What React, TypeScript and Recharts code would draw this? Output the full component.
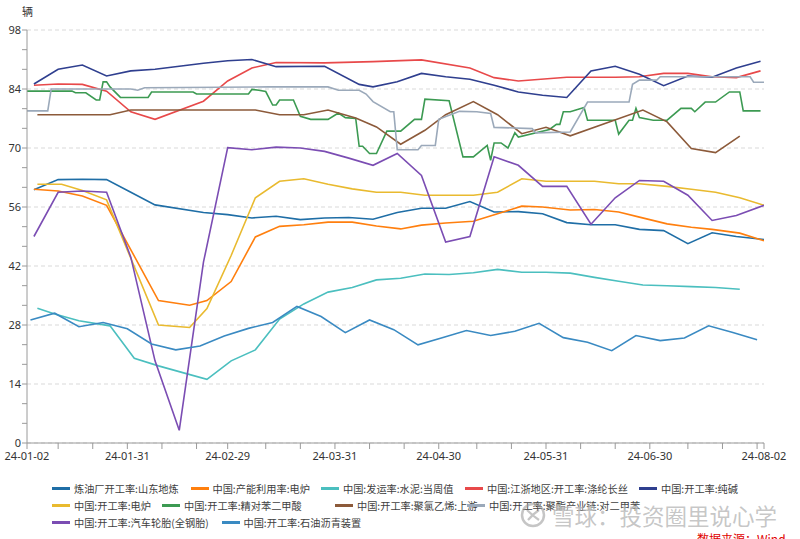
import React from 'react';
import { LineChart, Line, XAxis, YAxis, CartesianGrid } from 'recharts';

// ---------- axis definitions ----------
const xTickDates = ['01-02','01-11','01-21','01-31','02-10','02-20','02-29','03-11','03-21','03-31','04-10','04-20','04-30','05-11','05-21','05-31','06-10','06-20','06-30','07-11','07-21','07-31','08-02'];
const xLabelDates = ['01-02','01-31','02-29','03-31','04-30','05-31','06-30','08-02'];
const yMajorTicks = [0, 14, 28, 42, 56, 70, 84, 98];
const yUnit = '辆';

// ---------- series ----------
const sdRefineryDates = ['01-04','01-11','01-18','01-25','02-01','02-08','02-22','02-29','03-07','03-14','03-21','03-28','04-04','04-11','04-18','04-25','05-02','05-09','05-16','05-23','05-30','06-06','06-13','06-20','06-27','07-04','07-11','07-18','07-25','08-02'];
const sdRefineryValues = [60.1,62.5,62.6,62.5,59.5,56.5,54.7,54.2,53.4,53.8,53.0,53.4,53.5,53.1,54.7,55.7,55.7,57.3,54.8,54.9,54.4,52.3,51.8,51.8,50.7,50.4,47.3,49.9,49.0,48.3];

const eafCapDates = ['01-04','01-11','01-18','01-25','02-09','02-18','02-23','03-01','03-08','03-15','03-22','03-29','04-05','04-12','04-19','04-25','05-02','05-10','05-17','05-24','05-30','06-07','06-14','06-21','06-27','07-05','07-12','07-18','07-26','08-02'];
const eafCapValues = [60.2,59.8,58.6,56.4,33.8,32.7,33.8,38.3,48.9,51.4,51.8,52.4,52.4,51.5,50.8,51.7,52.2,52.6,54.4,56.2,56.0,55.3,55.4,54.8,53.6,52.0,51.2,50.7,49.8,48.0];

const cementDates = ['01-05','01-10','01-17','01-26','02-02','02-09','02-16','02-23','03-01','03-08','03-15','03-22','03-29','04-05','04-12','04-19','04-26','05-03','05-10','05-17','05-24','05-31','06-07','06-14','06-21','06-28','07-05','07-12','07-19','07-26'];
const cementValues = [32.0,30.6,29.0,27.8,20.1,18.3,16.7,15.1,19.5,22.1,29.4,33.0,35.8,36.9,38.7,39.1,40.1,40.0,40.4,41.2,40.5,40.5,40.3,39.3,38.4,37.5,37.3,37.1,36.9,36.5];

const polyesterDates = ['01-04','01-11','01-18','01-25','02-01','02-08','02-22','02-29','03-07','03-14','03-28','04-11','04-25','05-09','05-16','05-23','06-06','06-20','06-27','07-04','07-11','07-18','07-25','08-01'];
const polyesterValues = [84.9,85.2,85.1,83.5,78.6,76.8,81.1,85.9,89.0,90.3,90.2,90.5,90.9,89.0,86.7,85.9,86.8,86.8,86.9,87.7,87.7,86.9,86.7,88.3];

const sodaAshDates = ['01-04','01-11','01-18','01-25','02-01','02-08','02-22','02-29','03-07','03-14','03-28','04-07','04-11','04-18','04-25','05-02','05-09','05-16','05-23','05-30','06-06','06-13','06-20','06-27','07-04','07-11','07-18','07-25','08-01'];
const sodaAshValues = [85.2,88.7,89.7,87.1,88.3,88.7,90.1,90.7,91.0,89.3,89.4,85.1,84.5,85.7,87.7,86.9,86.3,84.9,83.3,82.5,82.0,88.3,89.4,87.5,84.8,87.1,86.8,89.0,90.6];

const eafOpDates = ['01-05','01-12','01-18','01-25','02-09','02-18','02-23','03-01','03-08','03-15','03-22','03-29','04-05','04-12','04-19','04-26','05-10','05-17','05-24','05-31','06-14','06-21','06-27','07-05','07-12','07-19','07-26','08-02'];
const eafOpValues = [61.4,61.4,59.9,57.7,28.0,27.4,31.9,44.5,58.2,62.1,62.7,61.4,60.3,59.5,59.5,58.8,58.8,59.5,62.7,62.1,62.1,61.5,61.5,60.9,60.2,59.5,58.2,56.4];

const ptaDates = ['01-02','01-15','01-16','01-19','01-22','01-23','01-24','01-25','01-26','01-29',
  '02-06','02-07','02-19','02-20','03-06','03-07','03-09','03-11','03-13','03-14',
  '03-15','03-19','03-21','03-24','03-29','04-01','04-03','04-06','04-07','04-08',
  '04-10','04-12','04-15','04-19','04-23','04-25','04-26','05-03','05-07','05-10',
  '05-14','05-15','05-16','05-18','05-20','05-22','05-23','06-01','06-03','06-04',
  '06-05','06-07','06-11','06-12','06-20','06-21','06-24','06-25','06-26','06-27',
  '07-01','07-05','07-09','07-12','07-13','07-16','07-19','07-23','07-26','07-27','08-01'];
const ptaValues = [83.5,83.5,83.1,83.1,81.4,81.4,85.7,85.7,84.5,82.0,
  82.0,83.3,83.3,82.8,82.8,83.9,83.7,83.4,80.2,80.2,
  81.4,81.4,77.5,76.8,76.8,78.3,77.2,77.0,70.4,70.4,
  68.7,68.7,74.0,74.0,76.8,76.8,81.6,81.2,67.9,67.9,
  70.6,67.1,71.2,71.2,70.0,73.6,72.6,74.4,75.6,75.6,
  78.6,78.6,79.6,76.6,76.6,73.3,76.6,76.6,79.4,77.2,
  76.6,76.6,79.4,79.4,78.6,80.9,80.9,83.3,83.3,78.8,78.8];

const pvcDates = ['01-05','01-26','02-01','03-08','03-15','03-22','03-29','04-06','04-12','04-19','04-26','05-02','05-10','05-17','05-24','05-31','06-07','06-28','07-05','07-12','07-19','07-26'];
const pvcValues = [77.9,77.9,79.0,79.0,77.9,77.9,79.0,77.1,75.0,70.9,74.2,77.9,81.0,77.9,73.4,74.9,72.9,79.0,76.2,69.9,68.9,72.8];

const pxDates = ['01-02','01-08','01-09','02-01','02-03','02-05','03-12','03-29','04-01','04-07',
  '04-09','04-11','04-16','04-17','04-18','04-24','04-25','04-29','04-30','05-06',
  '05-11','05-15','05-16','05-27','05-28','06-07','06-12','06-24','06-25','06-27',
  '07-02','07-03','07-29','07-30','08-02'];
const pxValues = [78.8,78.8,84.0,84.0,83.7,84.3,84.5,84.5,83.7,83.7,
  82.8,81.0,78.6,78.6,69.6,69.6,70.6,70.6,76.8,78.7,
  78.6,78.2,74.9,74.6,73.6,73.8,80.9,80.9,85.1,86.1,
  86.1,86.9,86.9,85.6,85.6];

const tireDates = ['01-04','01-11','01-18','01-25','02-01','02-08','02-15','02-22','02-29','03-07','03-14','03-21','03-28','04-04','04-11','04-18','04-25','05-02','05-09','05-16','05-23','05-30','06-06','06-13','06-20','06-27','07-04','07-11','07-18','07-25','08-02'];
const tireValues = [49.0,59.5,59.8,59.5,44.1,19.5,3.0,42.9,70.1,69.6,70.2,70.0,69.2,67.6,65.9,68.7,63.5,47.7,49.0,67.9,65.9,60.9,60.9,51.9,58.2,62.3,62.1,58.8,52.8,54.0,56.4];

const asphaltDates = ['01-03','01-10','01-17','01-24','01-31','02-07','02-14','02-21','02-28','03-06','03-13','03-20','03-27','04-03','04-10','04-17','04-24','05-01','05-08','05-15','05-22','05-29','06-05','06-12','06-19','06-26','07-03','07-10','07-17','07-24','07-31'];
const asphaltValues = [29.2,30.8,27.6,28.6,27.1,23.5,22.1,23.0,25.4,27.2,28.6,32.4,30.0,26.2,29.2,26.9,23.3,25.0,26.7,25.5,26.5,28.4,25.0,23.9,21.9,25.5,24.3,24.9,27.8,26.2,24.5];

const seriesNames = [
  '炼油厂开工率:山东地炼',
  '中国:产能利用率:电炉',
  '中国:发运率:水泥:当周值',
  '中国:江浙地区:开工率:涤纶长丝',
  '中国:开工率:纯碱',
  '中国:开工率:电炉',
  '中国:开工率:精对苯二甲酸',
  '中国:开工率:聚氯乙烯:上游',
  '中国:开工率:聚酯产业链:对二甲苯',
  '中国:开工率:汽车轮胎(全钢胎)',
  '中国:开工率:石油沥青装置',
];
const seriesColors = ['#1f6ea6','#ff7f0e','#4bbfbf','#e8494a','#2f3f8f','#e9ba2f','#3c9a52','#8c5a3a','#9ba9ba','#7b4db3','#3a8ac2'];
const seriesDates = [sdRefineryDates, eafCapDates, cementDates, polyesterDates, sodaAshDates, eafOpDates, ptaDates, pvcDates, pxDates, tireDates, asphaltDates];
const seriesValues = [sdRefineryValues, eafCapValues, cementValues, polyesterValues, sodaAshValues, eafOpValues, ptaValues, pvcValues, pxValues, tireValues, asphaltValues];

// ---------- helpers ----------
const BASE = Date.UTC(2024, 0, 2);
const dayOf = (md: string) => {
  const [m, d] = md.split('-').map(Number);
  return Math.round((Date.UTC(2024, m - 1, d) - BASE) / 86400000);
};
const xTicks = xTickDates.map(dayOf);
const xLabelSet = new Set(xLabelDates.map(dayOf));
const xLabelText: Record<number, string> = {};
xLabelDates.forEach((d) => { xLabelText[dayOf(d)] = '24-' + d; });
const xDomain = [dayOf('01-02'), dayOf('08-02')];

const yAllTicks: number[] = [];
for (let i = 0; i < yMajorTicks.length - 1; i++) {
  const a = yMajorTicks[i], b = yMajorTicks[i + 1];
  yAllTicks.push(a, a + (b - a) / 3, a + (2 * (b - a)) / 3);
}
yAllTicks.push(yMajorTicks[yMajorTicks.length - 1]);
const yFmt = (v: number) => (yMajorTicks.some((m) => Math.abs(m - v) < 1e-6) ? String(Math.round(v)) : '');

const series = seriesNames.map((name, i) => ({
  name,
  color: seriesColors[i],
  data: seriesDates[i].map((d, j) => ({ x: dayOf(d), v: seriesValues[i][j] })),
}));

// legend layout (text start x per row)
const legendRows = [[0, 1, 2, 3, 4], [5, 6, 7, 8], [9, 10]];
const legendTextX = [[74, 212.5, 343, 487, 661], [74, 184, 357, 489], [74, 243.5]];

const CJK = '"Noto Sans CJK SC", "Noto Sans", sans-serif';
const LATIN = '"Noto Sans", "DejaVu Sans", sans-serif';

export default function App() {
  return (
    <div style={{ position: 'absolute', left: 0, top: 0, width: 800, height: 539, overflow: 'hidden', background: '#fff' }}>
      <div style={{ position: 'absolute', left: 22, top: 3, fontSize: 11, fontFamily: CJK, color: '#333' }}>{yUnit}</div>
      <LineChart width={800} height={539} margin={{ top: 30, right: 36, bottom: 76, left: 0 }}>
        <CartesianGrid vertical={false} horizontalValues={yMajorTicks} stroke="#d9d9d9" strokeDasharray="4 3" />
        <XAxis
          dataKey="x"
          type="number"
          domain={xDomain}
          allowDataOverflow
          ticks={xTicks}
          interval={0}
          height={20}
          tickSize={6}
          tickMargin={3}
          stroke="#9a9a9a"
          tick={{ fontSize: 11, fill: '#333', fontFamily: LATIN }}
          tickFormatter={(v: number) => (xLabelSet.has(v) ? xLabelText[v] : '')}
        />
        <YAxis
          type="number"
          domain={[0, 98]}
          allowDataOverflow
          ticks={yAllTicks}
          interval={0}
          width={27}
          tickSize={5}
          tickMargin={1}
          stroke="#9a9a9a"
          tick={{ fontSize: 11, fill: '#333', fontFamily: LATIN }}
          tickFormatter={yFmt}
        />
        {series.map((s) => (
          <Line
            key={s.name}
            data={s.data}
            dataKey="v"
            name={s.name}
            type="linear"
            stroke={s.color}
            strokeWidth={1.6}
            dot={false}
            activeDot={false}
            isAnimationActive={false}
          />
        ))}
      </LineChart>
      {legendRows.map((row, r) =>
        row.map((idx, k) => (
          <div
            key={idx}
            style={{
              position: 'absolute',
              left: legendTextX[r][k] - 22,
              top: 480 + r * 17,
              height: 17,
              display: 'flex',
              alignItems: 'center',
              whiteSpace: 'nowrap',
            }}
          >
            <span style={{ display: 'inline-block', width: 18, height: 2.5, background: series[idx].color, marginRight: 4 }} />
            <span style={{ fontSize: 10.2, fontFamily: CJK, color: '#404040', lineHeight: '17px' }}>{series[idx].name}</span>
          </div>
        ))
      )}
      {/* watermark */}
      <div style={{ position: 'absolute', left: 519, top: 502, display: 'flex', alignItems: 'center', pointerEvents: 'none' }}>
        <svg width={30} height={26}>
          <circle cx={14} cy={13} r={11} fill="none" stroke="rgba(150,150,150,0.55)" strokeWidth={2.5} />
          <path d="M8 8 Q14 14 20 18 M20 8 Q14 12 9 18" fill="none" stroke="rgba(150,150,150,0.55)" strokeWidth={2.2} />
        </svg>
        <span style={{ fontSize: 22.5, lineHeight: '24px', fontFamily: CJK, color: 'rgba(150,150,150,0.55)', marginLeft: 3, textShadow: '0 0 2px #fff' }}>
          雪球：投资圈里说心学
        </span>
      </div>
      <div style={{ position: 'absolute', left: 697, top: 532, fontSize: 12, lineHeight: '14px', fontFamily: CJK, color: '#e00000', whiteSpace: 'nowrap' }}>
        数据来源：Wind
      </div>
    </div>
  );
}
